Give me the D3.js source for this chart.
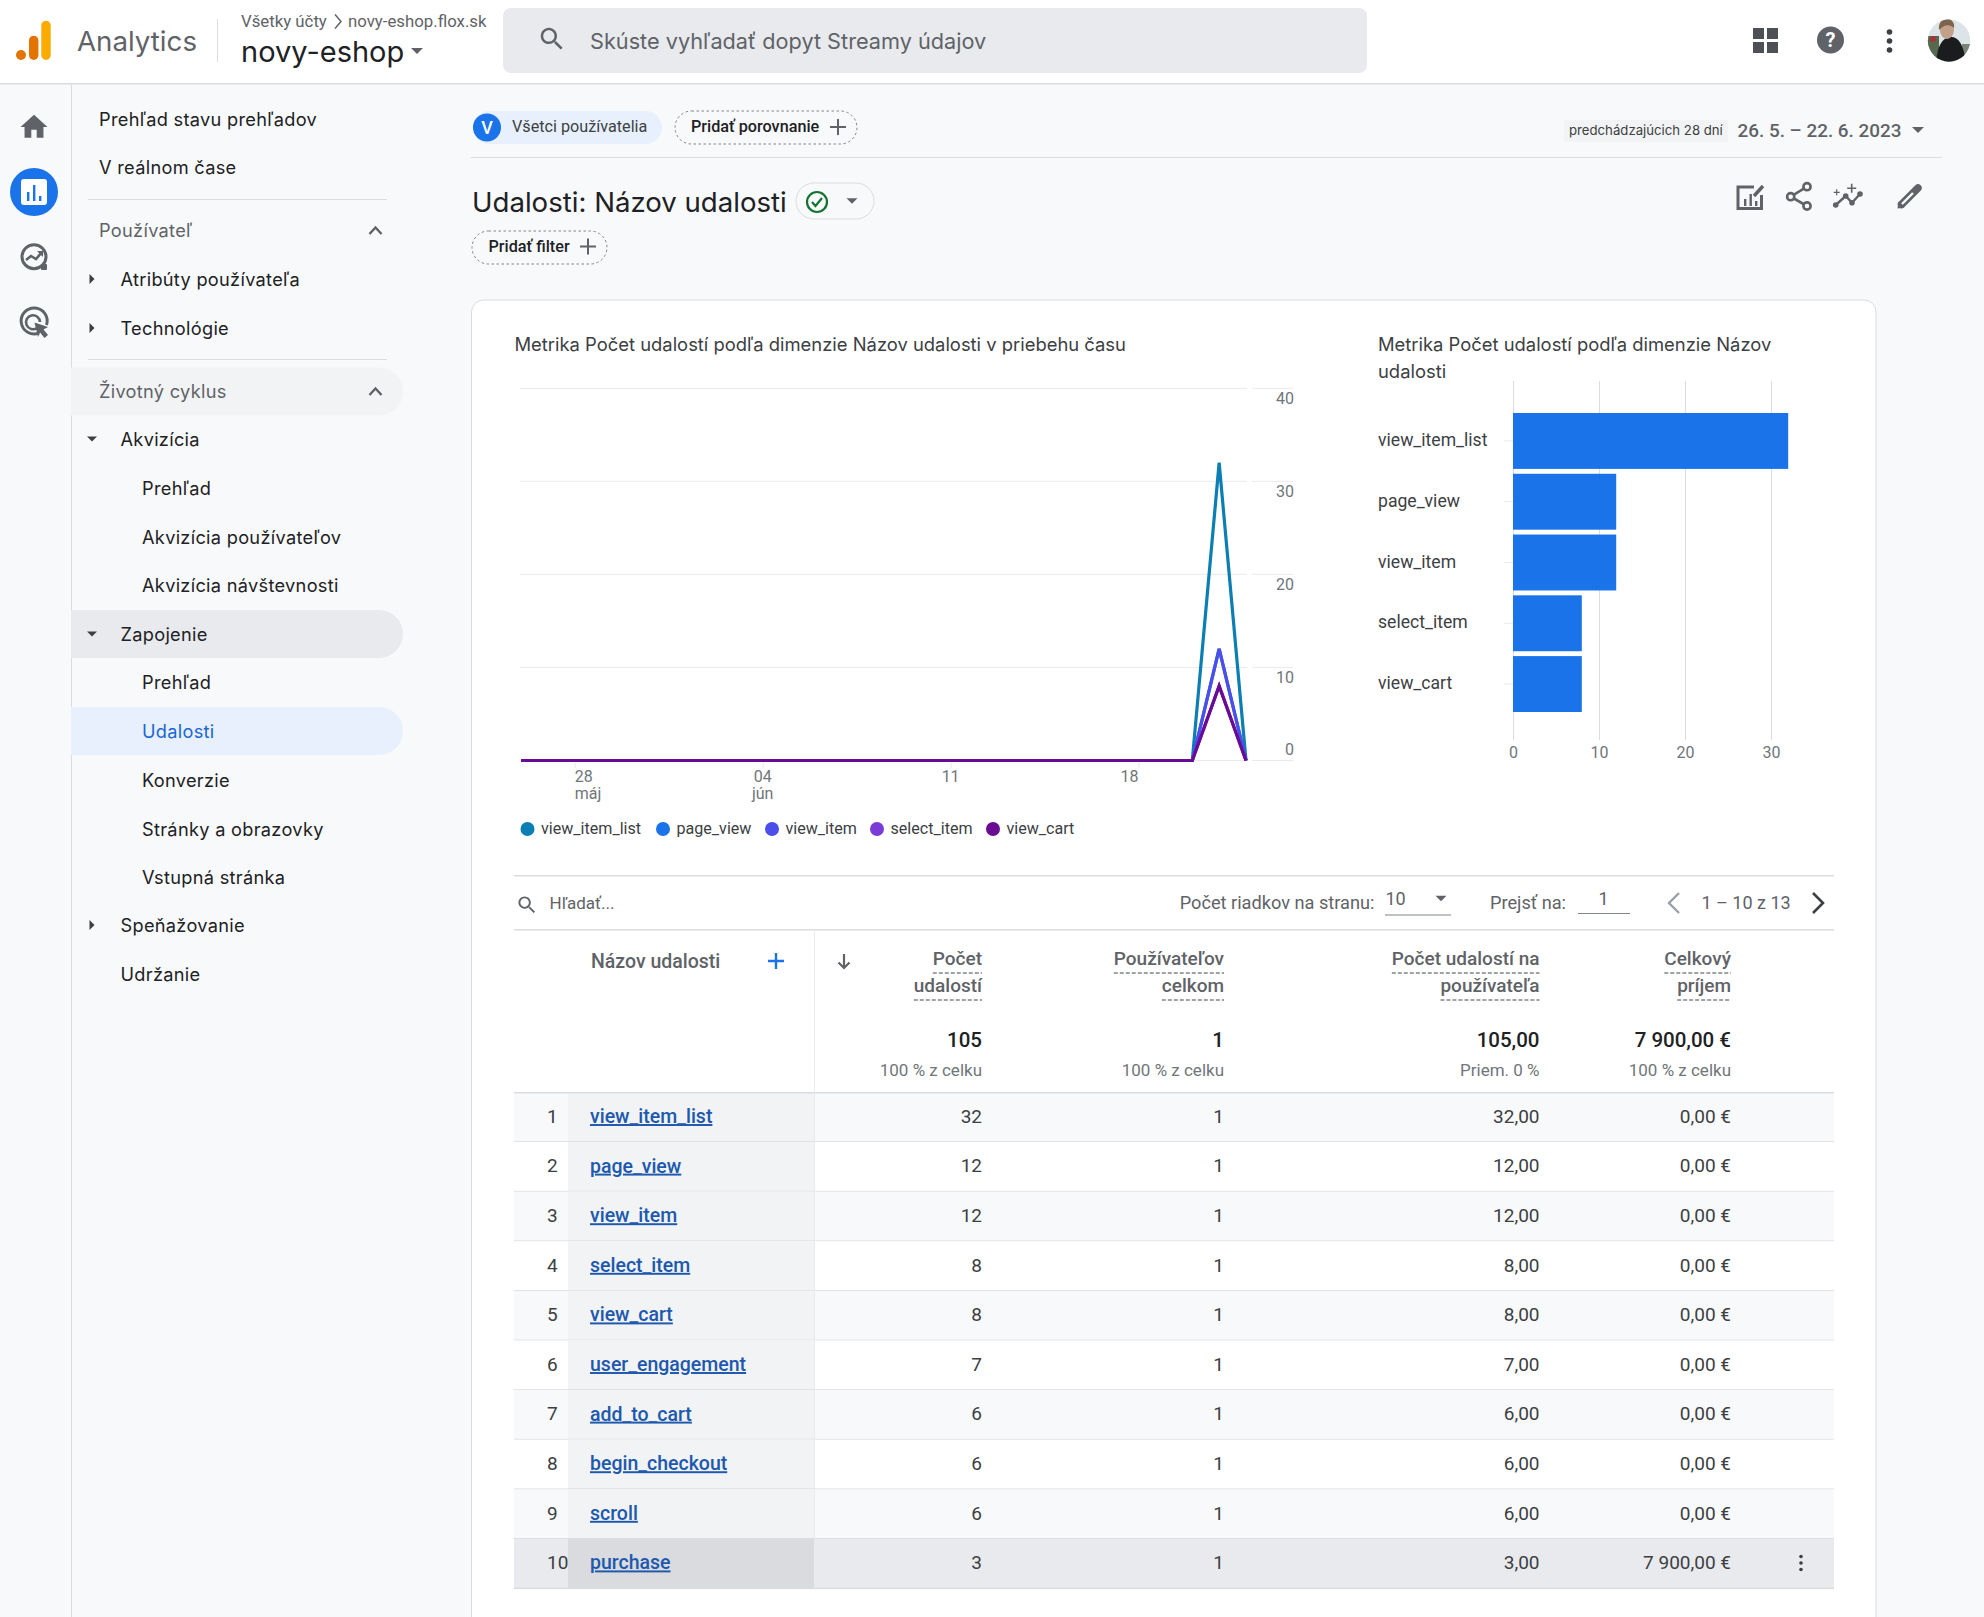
<!DOCTYPE html>
<html lang="sk">
<head>
<meta charset="utf-8">
<title>Udalosti: Názov udalosti</title>
<script src="https://cdn.jsdelivr.net/npm/d3@7"></script>
<style>
  html, body { margin: 0; padding: 0; background: #f8f9fa; }
  svg { display: block; }
</style>
</head>
<body>
<svg id="page" width="1984" height="1617" viewBox="0 0 1984 1617" role="img" aria-label="Udalosti: Názov udalosti"></svg>
<script>
// line chart data, one value per day from 26. 5. to 22. 6. 2023
const dates = [
  "2023-05-26", "2023-05-27", "2023-05-28", "2023-05-29", "2023-05-30", "2023-05-31", "2023-06-01",
  "2023-06-02", "2023-06-03", "2023-06-04", "2023-06-05", "2023-06-06", "2023-06-07", "2023-06-08",
  "2023-06-09", "2023-06-10", "2023-06-11", "2023-06-12", "2023-06-13", "2023-06-14", "2023-06-15",
  "2023-06-16", "2023-06-17", "2023-06-18", "2023-06-19", "2023-06-20", "2023-06-21", "2023-06-22",
];
const viewItemList = [0, 0, 0, 0, 0, 0, 0, 0, 0, 0, 0, 0, 0, 0, 0, 0, 0, 0, 0, 0, 0, 0, 0, 0, 0, 0, 32, 0];
const pageView = [0, 0, 0, 0, 0, 0, 0, 0, 0, 0, 0, 0, 0, 0, 0, 0, 0, 0, 0, 0, 0, 0, 0, 0, 0, 0, 12, 0];
const viewItem = [0, 0, 0, 0, 0, 0, 0, 0, 0, 0, 0, 0, 0, 0, 0, 0, 0, 0, 0, 0, 0, 0, 0, 0, 0, 0, 12, 0];
const selectItem = [0, 0, 0, 0, 0, 0, 0, 0, 0, 0, 0, 0, 0, 0, 0, 0, 0, 0, 0, 0, 0, 0, 0, 0, 0, 0, 8, 0];
const viewCart = [0, 0, 0, 0, 0, 0, 0, 0, 0, 0, 0, 0, 0, 0, 0, 0, 0, 0, 0, 0, 0, 0, 0, 0, 0, 0, 8, 0];

const lineNames = ["view_item_list", "page_view", "view_item", "select_item", "view_cart"];
const lineValues = [viewItemList, pageView, viewItem, selectItem, viewCart];
const lineColors = ["#0b7fb3", "#1a73e8", "#4b4ee8", "#7b3bd6", "#6a0b94"];
const lineYTicks = [0, 10, 20, 30, 40];
const lineXTicks = ["2023-05-28", "2023-06-04", "2023-06-11", "2023-06-18"];
const lineXLabels = [["28", "máj"], ["04", "jún"], ["11", ""], ["18", ""]];

// bar chart data
const barNames = ["view_item_list", "page_view", "view_item", "select_item", "view_cart"];
const barValues = [32, 12, 12, 8, 8];
const barTicks = [0, 10, 20, 30];

// table data
const tableNames = ["view_item_list", "page_view", "view_item", "select_item", "view_cart",
  "user_engagement", "add_to_cart", "begin_checkout", "scroll", "purchase"];
const tableEvents = ["32", "12", "12", "8", "8", "7", "6", "6", "6", "3"];
const tableUsers = ["1", "1", "1", "1", "1", "1", "1", "1", "1", "1"];
const tablePerUser = ["32,00", "12,00", "12,00", "8,00", "8,00", "7,00", "6,00", "6,00", "6,00", "3,00"];
const tableRevenue = ["0,00 €", "0,00 €", "0,00 €", "0,00 €", "0,00 €", "0,00 €", "0,00 €", "0,00 €", "0,00 €", "7 900,00 €"];
const tableHeaders = [["Počet", "udalostí"], ["Používateľov", "celkom"], ["Počet udalostí na", "používateľa"], ["Celkový", "príjem"]];
const tableTotals = ["105", "1", "105,00", "7 900,00 €"];
const tableShares = ["100 % z celku", "100 % z celku", "Priem. 0 %", "100 % z celku"];

// side navigation: label, level, arrow
const navLabels = ["Prehľad stavu prehľadov", "V reálnom čase", "Používateľ", "Atribúty používateľa", "Technológie",
  "Životný cyklus", "Akvizícia", "Prehľad", "Akvizícia používateľov", "Akvizícia návštevnosti",
  "Zapojenie", "Prehľad", "Udalosti", "Konverzie", "Stránky a obrazovky", "Vstupná stránka", "Speňažovanie", "Udržanie"];
const navLevels = [0, 0, 0, 1, 1, 0, 1, 2, 2, 2, 1, 2, 2, 2, 2, 2, 1, 1];
const navArrows = ["", "", "up", "right", "right", "up", "down", "", "", "", "down", "", "", "", "", "", "right", ""];

const UI = "Inter, 'Noto Sans', sans-serif";
const NUM = "Roboto, Arial, sans-serif";
const svg = d3.select("#page");

function label(parent, x, y, str, opts) {
  const o = Object.assign({ size: 16, fill: "#3c4043", anchor: "start", weight: 400, family: NUM, spacing: 0 }, opts);
  return parent.append("text")
    .attr("x", x)
    .attr("y", y)
    .attr("dy", "0.35em")
    .attr("text-anchor", o.anchor)
    .attr("font-family", o.family)
    .attr("font-size", o.size)
    .attr("font-weight", o.weight)
    .attr("letter-spacing", o.spacing)
    .attr("fill", o.fill)
    .text(str);
}

function icon(parent, d, x, y, scale, fill) {
  return parent.append("path")
    .attr("d", d)
    .attr("fill", fill)
    .attr("transform", "translate(" + (x - 12 * scale) + "," + (y - 12 * scale) + ") scale(" + scale + ")");
}

function caret(parent, x, y, r, dir, fill) {
  const pts = {
    down: [[x - r, y - r / 2], [x + r, y - r / 2], [x, y + r / 2]],
    right: [[x - r / 2, y - r], [x + r / 2, y], [x - r / 2, y + r]],
  }[dir];
  parent.append("path").attr("d", d3.line()(pts) + "Z").attr("fill", fill);
}

function plus(parent, x, y, r, color, width) {
  parent.append("path")
    .attr("d", "M" + (x - r) + " " + y + "H" + (x + r) + "M" + x + " " + (y - r) + "V" + (y + r))
    .attr("stroke", color).attr("stroke-width", width).attr("fill", "none");
}

function chevron(parent, x, y, points, color, width) {
  parent.append("path")
    .attr("d", d3.line()(points.map(function(p) { return [x + p[0], y + p[1]]; })))
    .attr("stroke", color).attr("stroke-width", width).attr("fill", "none");
}

const SEARCH_PATH = "M15.5 14h-.79l-.28-.27C15.41 12.59 16 11.11 16 9.5 16 5.91 13.09 3 9.5 3S3 5.91 3 9.5 5.91 16 9.5 16c1.61 0 3.09-.59 4.23-1.57l.27.28v.79l5 4.99L20.49 19l-4.99-5zm-6 0C7.01 14 5 11.99 5 9.5S7.01 5 9.5 5 14 7.01 14 9.5 11.99 14 9.5 14z";
const HOME_PATH = "M10 20v-6h4v6h5v-8h3L12 3 2 12h3v8z";

function drawHeader() {
  const g = svg.append("g");
  g.append("rect").attr("width", 1984).attr("height", 83).attr("fill", "#ffffff");
  g.append("rect").attr("y", 83).attr("width", 1984).attr("height", 1.5).attr("fill", "#dadce0");

  // logo
  g.append("circle").attr("cx", 21).attr("cy", 55).attr("r", 5).attr("fill", "#e37400");
  g.append("rect").attr("x", 29).attr("y", 35.7).attr("width", 9.4).attr("height", 24.3).attr("rx", 4.7).attr("fill", "#e37400");
  g.append("rect").attr("x", 41.3).attr("y", 20.7).attr("width", 9.4).attr("height", 39.3).attr("rx", 4.7).attr("fill", "#f9ab00");

  label(g, 77, 41, "Analytics", { size: 27.7, fill: "#5f6368", family: UI });
  g.append("rect").attr("x", 217).attr("y", 19).attr("width", 1).attr("height", 43).attr("fill", "#dadce0");
  label(g, 241, 21.5, "Všetky účty", { size: 16.8, fill: "#5f6368" });
  chevron(g, 338, 21.5, [[-3, -7], [3, 0], [-3, 7]], "#5f6368", 1.5);
  label(g, 348, 21.5, "novy-eshop.flox.sk", { size: 16.8, fill: "#5f6368" });
  label(g, 241, 52, "novy-eshop", { size: 29, fill: "#202124", family: UI });
  caret(g, 417, 51, 6, "down", "#5f6368");

  g.append("rect").attr("x", 503).attr("y", 8).attr("width", 864).attr("height", 65).attr("rx", 8).attr("fill", "#e8eaed");
  icon(g, SEARCH_PATH, 552, 39, 1.25, "#5f6368");
  label(g, 590, 41, "Skúste vyhľadať dopyt Streamy údajov", { size: 21.7, fill: "#5f6368", family: UI });

  // app icons
  [[1753, 28], [1767, 28], [1753, 42], [1767, 42]].forEach(function(p) {
    g.append("rect").attr("x", p[0]).attr("y", p[1]).attr("width", 11).attr("height", 11).attr("fill", "#4d5156");
  });
  g.append("circle").attr("cx", 1830.5).attr("cy", 40).attr("r", 13.5).attr("fill", "#5f6368");
  label(g, 1830.5, 40, "?", { size: 20, fill: "#ffffff", anchor: "middle", weight: 700 });
  [32, 41, 50].forEach(function(y) {
    g.append("circle").attr("cx", 1889.5).attr("cy", y).attr("r", 2.8).attr("fill", "#3c4043");
  });

  // avatar
  g.append("clipPath").attr("id", "avatar-clip").append("circle").attr("cx", 1949).attr("cy", 40.5).attr("r", 21.2);
  const a = g.append("g").attr("clip-path", "url(#avatar-clip)");
  a.append("rect").attr("x", 1925).attr("y", 16).attr("width", 48).attr("height", 48).attr("fill", "#dde4e8");
  a.append("rect").attr("x", 1925).attr("y", 36).attr("width", 14).attr("height", 28).attr("fill", "#56694f");
  a.append("rect").attr("x", 1962).attr("y", 44).attr("width", 12).attr("height", 20).attr("fill", "#7c8478");
  a.append("circle").attr("cx", 1933).attr("cy", 39).attr("r", 3).attr("fill", "#a5343a");
  a.append("path").attr("d", "M1936 64C1937 46 1942 38 1950 37C1958 36 1964 44 1966 64Z").attr("fill", "#1b1c1e");
  a.append("ellipse").attr("cx", 1947).attr("cy", 30).attr("rx", 7).attr("ry", 9).attr("fill", "#c2a08a");
  a.append("path").attr("d", "M1939 30C1938 22 1943 19 1947 19C1952 19 1955 23 1954 28C1950 24 1944 24 1939 30Z").attr("fill", "#7d624e");
}

function drawSideNav() {
  const g = svg.append("g");
  g.append("rect").attr("x", 71).attr("y", 84).attr("width", 1).attr("height", 1533).attr("fill", "#dadce0");

  // rail icons
  icon(g, HOME_PATH, 34, 127, 1.35, "#5f6368");
  g.append("circle").attr("cx", 34).attr("cy", 192).attr("r", 24).attr("fill", "#1a73e8");
  g.append("rect").attr("x", 21).attr("y", 179).attr("width", 26).attr("height", 26).attr("rx", 3).attr("fill", "#ffffff");
  [[28, 192, 9], [34, 185, 16], [40, 196, 5]].forEach(function(b) {
    g.append("rect").attr("x", b[0] - 1).attr("y", b[1]).attr("width", 2.4).attr("height", b[2]).attr("fill", "#1a73e8");
  });

  // explore icon
  g.append("circle").attr("cx", 34).attr("cy", 256.7).attr("r", 12).attr("fill", "none").attr("stroke", "#5f6368").attr("stroke-width", 3);
  g.append("rect").attr("x", 41).attr("y", 264).attr("width", 6).attr("height", 6).attr("rx", 1).attr("fill", "#5f6368");
  chevron(g, 34, 257, [[-8, 3], [-3, -1], [2, 2], [8, -5]], "#5f6368", 2.6);
  g.append("path").attr("d", "M37 251H43V257Z").attr("fill", "#5f6368");

  // advertising icon
  g.append("path").attr("d", "M39 333A13 13 0 1 1 46.5 325").attr("fill", "none").attr("stroke", "#5f6368").attr("stroke-width", 3);
  g.append("path").attr("d", "M37 328A7 7 0 1 1 40 322").attr("fill", "none").attr("stroke", "#5f6368").attr("stroke-width", 2.6);
  g.append("path").attr("d", "M34.5 322.5L48 327L43.5 329.5L48 335L44.5 338L40 332.5L38 337Z").attr("fill", "#5f6368");

  // highlighted rows
  g.append("path").attr("d", "M71 367.5H379A24 24 0 0 1 379 415.5H71Z").attr("fill", "#f1f3f4");
  g.append("path").attr("d", "M71 610H379A24 24 0 0 1 379 658H71Z").attr("fill", "#e8eaed");
  g.append("path").attr("d", "M71 707H379A24 24 0 0 1 379 755H71Z").attr("fill", "#e8f0fe");

  [199, 359].forEach(function(y) {
    g.append("rect").attr("x", 88).attr("y", y).attr("width", 299).attr("height", 1).attr("fill", "#dadce0");
  });

  const navY = [120, 168, 231, 280, 329, 392, 440, 489, 537.5, 586, 635, 683, 732, 780.5, 830, 878, 926, 975];
  const levelX = [99, 120.5, 142];
  navLabels.forEach(function(text, i) {
    const y = navY[i];
    const isGroup = navArrows[i] === "up";
    label(g, levelX[navLevels[i]], y, text, {
      size: 18.2,
      spacing: 0.3,
      family: UI,
      fill: text === "Udalosti" ? "#1967d2" : isGroup ? "#5f6368" : "#202124",
    });
    if (navArrows[i] === "up") chevron(g, 375.5, y - 1, [[-6, 4], [0, -2.5], [6, 4]], "#5f6368", 2.4);
    if (navArrows[i] === "right") caret(g, 92, y - 1, 5, "right", "#3c4043");
    if (navArrows[i] === "down") caret(g, 92, y - 1, 5, "down", "#3c4043");
  });
}

function drawTopBar() {
  const g = svg.append("g");
  g.append("rect").attr("x", 473).attr("y", 111).attr("width", 189).attr("height", 33).attr("rx", 16.5).attr("fill", "#e8f0fe");
  g.append("circle").attr("cx", 487).attr("cy", 127.5).attr("r", 14).attr("fill", "#1a73e8");
  label(g, 487, 127.5, "V", { size: 18, fill: "#ffffff", anchor: "middle", weight: 500 });
  label(g, 512, 126.5, "Všetci používatelia", { size: 16.2, fill: "#3c4043" });

  g.append("rect").attr("x", 675).attr("y", 111).attr("width", 182).attr("height", 33).attr("rx", 16.5)
    .attr("fill", "none").attr("stroke", "#80868b").attr("stroke-dasharray", "2.5 2.5");
  label(g, 691, 126.5, "Pridať porovnanie", { size: 16.2, fill: "#202124", weight: 500 });
  plus(g, 838, 127, 8, "#5f6368", 2);

  g.append("rect").attr("x", 471).attr("y", 157).attr("width", 1471).attr("height", 1).attr("fill", "#dadce0");

  g.append("rect").attr("x", 1564).attr("y", 120).attr("width", 164).attr("height", 22).attr("fill", "#f1f3f4");
  label(g, 1569, 130.5, "predchádzajúcich 28 dní", { size: 13.2, fill: "#3c4043", family: UI });
  label(g, 1737.5, 130, "26. 5. – 22. 6. 2023", { size: 18.9, fill: "#5f6368", weight: 500 });
  caret(g, 1918, 130, 6, "down", "#5f6368");

  label(g, 472, 202, "Udalosti: Názov udalosti", { size: 27.6, fill: "#202124", family: UI });
  g.append("rect").attr("x", 796).attr("y", 183).attr("width", 78).attr("height", 36).attr("rx", 18)
    .attr("fill", "none").attr("stroke", "#dadce0");
  g.append("circle").attr("cx", 817).attr("cy", 202).attr("r", 10).attr("fill", "none").attr("stroke", "#137333").attr("stroke-width", 2.2);
  chevron(g, 817, 202, [[-5, 0], [-1.5, 4], [5, -4]], "#137333", 2.2);
  caret(g, 852, 201, 5.5, "down", "#5f6368");

  g.append("rect").attr("x", 472).attr("y", 231).attr("width", 135).attr("height", 33).attr("rx", 16.5)
    .attr("fill", "none").attr("stroke", "#80868b").attr("stroke-dasharray", "2.5 2.5");
  label(g, 488.5, 246, "Pridať filter", { size: 16.2, fill: "#202124", weight: 500 });
  plus(g, 588, 246.5, 8, "#5f6368", 2);

  // report icons
  g.append("path").attr("d", "M1754 187H1738V208.5H1761.5V195").attr("fill", "none").attr("stroke", "#5f6368").attr("stroke-width", 3);
  [[1744, 199, 7], [1749.5, 194, 12], [1755, 201, 5]].forEach(function(b) {
    g.append("rect").attr("x", b[0]).attr("y", b[1]).attr("width", 2.4).attr("height", b[2]).attr("fill", "#5f6368");
  });
  g.append("path").attr("d", "M1754 196L1763 186").attr("stroke", "#5f6368").attr("stroke-width", 3.4);

  // share
  g.append("path").attr("d", "M1807 186.7L1790.7 196.7L1807 206").attr("fill", "none").attr("stroke", "#5f6368").attr("stroke-width", 2.6);
  [[1807, 186.7], [1790.7, 196.7], [1807, 206]].forEach(function(p) {
    g.append("circle").attr("cx", p[0]).attr("cy", p[1]).attr("r", 3.6)
      .attr("fill", "#f8f9fa").attr("stroke", "#5f6368").attr("stroke-width", 2.6);
  });

  // insights
  const insight = [[1835.7, 205], [1845.7, 196], [1852, 202.7], [1860, 194]];
  g.append("path").attr("d", d3.line()(insight)).attr("fill", "none").attr("stroke", "#5f6368").attr("stroke-width", 2.4);
  insight.forEach(function(p) {
    g.append("circle").attr("cx", p[0]).attr("cy", p[1]).attr("r", 2.8).attr("fill", "#5f6368");
  });
  plus(g, 1836.7, 192.3, 3, "#5f6368", 1.2);
  plus(g, 1851.7, 188.3, 4.5, "#5f6368", 1.6);

  // pencil
  g.append("path").attr("d", "M1901.5 204.5L1918 188").attr("stroke", "#5f6368").attr("stroke-width", 7.5).attr("stroke-linecap", "round");
  g.append("path").attr("d", "M1897.5 208.5L1898.5 201.5L1904.5 207.5Z").attr("fill", "#5f6368");
  g.append("path").attr("d", "M1902 204L1913 193").attr("stroke", "#f8f9fa").attr("stroke-width", 2.4);
}

function drawCard() {
  svg.append("path")
    .attr("d", "M471.5 1617V312A12 12 0 0 1 483.5 300H1864A12 12 0 0 1 1876 312V1617")
    .attr("fill", "#ffffff")
    .attr("stroke", "#dadce0");
}

function drawLineChart() {
  const g = svg.append("g");
  label(g, 514.5, 344.5, "Metrika Počet udalostí podľa dimenzie Názov udalosti v priebehu času", { size: 18.4, family: UI });

  const parse = d3.utcParse("%Y-%m-%d");
  const x = d3.scaleUtc().domain([parse(dates[0]), parse(dates[dates.length - 1])]).range([521, 1246]);
  const y = d3.scaleLinear().domain([0, 40]).range([760.5, 388.3]);

  // gridlines stop just short of the tick label stubs
  g.append("g").selectAll("line").data(lineYTicks).join("line")
    .attr("x1", 520).attr("x2", 1247)
    .attr("y1", function(d) { return y(d); }).attr("y2", function(d) { return y(d); })
    .attr("stroke", "#e8eaed");
  g.append("g").selectAll("line").data(lineYTicks).join("line")
    .attr("x1", 1252).attr("x2", 1293)
    .attr("y1", function(d) { return y(d); }).attr("y2", function(d) { return y(d); })
    .attr("stroke", "#e8eaed");

  const yAxis = d3.axisRight(y).tickValues(lineYTicks).tickSize(0).tickPadding(0);
  const yAxisG = g.append("g").attr("transform", "translate(1294,0)").call(yAxis);
  yAxisG.select(".domain").remove();
  yAxisG.selectAll("text")
    .attr("x", 0)
    .attr("text-anchor", "end")
    .attr("font-family", NUM)
    .attr("font-size", 16)
    .attr("fill", "#70757a")
    .attr("dy", function(d) { return d === 0 ? "-0.35em" : "0.95em"; });

  const xAxis = d3.axisBottom(x)
    .tickValues(lineXTicks.map(parse))
    .tickSize(8)
    .tickFormat(function() { return ""; });
  const xAxisG = g.append("g").attr("transform", "translate(0,760.5)").call(xAxis);
  xAxisG.select(".domain").remove();
  xAxisG.selectAll("line").attr("stroke", "#e8eaed");
  const anchors = ["start", "middle", "middle", "end"];
  lineXTicks.forEach(function(tick, i) {
    const tx = x(parse(tick));
    label(g, tx, 776.5, lineXLabels[i][0], { size: 16, fill: "#70757a", anchor: anchors[i] });
    if (lineXLabels[i][1]) label(g, tx, 793, lineXLabels[i][1], { size: 16, fill: "#70757a", anchor: anchors[i] });
  });

  const line = d3.line()
    .x(function(d, i) { return x(parse(dates[i])); })
    .y(function(d) { return y(d); });
  g.append("g").selectAll("path").data(lineValues).join("path")
    .attr("d", line)
    .attr("fill", "none")
    .attr("stroke", function(d, i) { return lineColors[i]; })
    .attr("stroke-width", 3.2)
    .attr("stroke-linejoin", "miter");

  // legend
  const legendX = [527.5, 663, 772, 877, 993];
  lineNames.forEach(function(name, i) {
    g.append("circle").attr("cx", legendX[i]).attr("cy", 829).attr("r", 7).attr("fill", lineColors[i]);
    label(g, legendX[i] + 13.5, 828.5, name, { size: 16.1, fill: "#3c4043" });
  });
}

function drawBarChart() {
  const g = svg.append("g");
  label(g, 1378, 344.5, "Metrika Počet udalostí podľa dimenzie Názov", { size: 18.4, family: UI });
  label(g, 1378, 372, "udalosti", { size: 18.4, family: UI });

  const x = d3.scaleLinear().domain([0, 30]).range([1513, 1771]);
  const y = d3.scaleBand().domain(barNames).range([413, 712]).paddingInner(0.08);

  const xAxis = d3.axisBottom(x).tickValues(barTicks).tickSize(359).tickPadding(7);
  const xAxisG = g.append("g").attr("transform", "translate(0,381)").call(xAxis);
  xAxisG.select(".domain").remove();
  xAxisG.selectAll("line").attr("stroke", "#dadce0");
  xAxisG.selectAll("text").attr("font-family", NUM).attr("font-size", 16).attr("fill", "#70757a");

  const yAxis = d3.axisLeft(y).tickSize(9).tickPadding(0).tickFormat("");
  const yAxisG = g.append("g").attr("transform", "translate(1513,0)").call(yAxis);
  yAxisG.select(".domain").remove();
  yAxisG.selectAll("line").attr("stroke", "#e8eaed");

  barNames.forEach(function(name) {
    label(g, 1378, y(name) + y.bandwidth() / 2 - 1, name, { size: 17.6, fill: "#3c4043" });
  });

  g.append("g").selectAll("rect").data(barValues).join("rect")
    .attr("x", x(0))
    .attr("y", function(d, i) { return y(barNames[i]); })
    .attr("width", function(d) { return x(d) - x(0); })
    .attr("height", y.bandwidth())
    .attr("fill", "#1a73e8");
}

function drawTable() {
  const g = svg.append("g");
  const colX = [982, 1224, 1539.5, 1731];

  g.append("rect").attr("x", 514).attr("y", 875).attr("width", 1320).attr("height", 1.5).attr("fill", "#dadce0");
  g.append("rect").attr("x", 514).attr("y", 929).attr("width", 1320).attr("height", 1.5).attr("fill", "#dadce0");

  // search and paging row
  icon(g, SEARCH_PATH, 527, 905, 0.95, "#5f6368");
  label(g, 549.5, 903.5, "Hľadať...", { size: 17, fill: "#5f6368" });
  label(g, 1374.5, 903, "Počet riadkov na stranu:", { size: 18.2, fill: "#5f6368", anchor: "end" });
  label(g, 1385.5, 899, "10", { size: 18, fill: "#5f6368" });
  caret(g, 1441, 898.5, 5.5, "down", "#5f6368");
  g.append("rect").attr("x", 1385).attr("y", 914.5).attr("width", 66).attr("height", 1).attr("fill", "#80868b");
  label(g, 1490, 903, "Prejsť na:", { size: 18.2, fill: "#5f6368" });
  label(g, 1603.5, 899, "1", { size: 18, fill: "#5f6368", anchor: "middle" });
  g.append("rect").attr("x", 1578).attr("y", 913).attr("width", 52).attr("height", 1).attr("fill", "#80868b");
  chevron(g, 1674, 903, [[5, -10], [-5, 0], [5, 10]], "#9aa0a6", 2.4);
  label(g, 1701.5, 903, "1 – 10 z 13", { size: 18, fill: "#5f6368" });
  chevron(g, 1818, 903, [[-5, -10], [5, 0], [-5, 10]], "#3c4043", 2.6);

  // table head
  label(g, 591, 961, "Názov udalosti", { size: 19.5, fill: "#5f6368", weight: 500 });
  plus(g, 776, 961, 8, "#1a73e8", 2.4);
  g.append("path").attr("d", "M844 954V968M838.5 962.5L844 968L849.5 962.5").attr("fill", "none").attr("stroke", "#5f6368").attr("stroke-width", 2.2);

  tableHeaders.forEach(function(lines, c) {
    lines.forEach(function(line, j) {
      const y = 958.5 + j * 27;
      const t = label(g, colX[c], y, line, { size: 19, fill: "#5f6368", anchor: "end", weight: 500 });
      const w = t.node().getComputedTextLength();
      g.append("line").attr("x1", colX[c] - w).attr("x2", colX[c]).attr("y1", y + 14.5).attr("y2", y + 14.5)
        .attr("stroke", "#80868b").attr("stroke-width", 1.5).attr("stroke-dasharray", "4 2");
    });
    label(g, colX[c], 1039.5, tableTotals[c], { size: 20.5, fill: "#202124", anchor: "end", weight: 500 });
    label(g, colX[c], 1070, tableShares[c], { size: 17, fill: "#70757a", anchor: "end" });
  });

  // rows
  const y = d3.scaleBand().domain(tableNames).range([1092.4, 1588.4]);
  const rows = g.append("g").selectAll("g").data(tableNames).join("g")
    .attr("transform", function(d) { return "translate(0," + y(d) + ")"; });
  const h = y.bandwidth();

  rows.append("rect").attr("x", 514).attr("width", 1320).attr("height", h)
    .attr("fill", function(d, i) { return i === 9 ? "#e8eaed" : i % 2 === 0 ? "#f8f9fa" : "#ffffff"; });
  rows.append("rect").attr("x", 568).attr("width", 246).attr("height", h)
    .attr("fill", function(d, i) { return i === 9 ? "#d9dbde" : "#f1f3f4"; });
  rows.append("rect").attr("x", 514).attr("y", h - 0.75).attr("width", 1320).attr("height", 1.5).attr("fill", "#dadce0");
  rows.append("text").attr("x", 547).attr("y", h / 2 - 1).attr("dy", "0.35em")
    .attr("font-family", NUM).attr("font-size", 19).attr("fill", "#3c4043")
    .text(function(d, i) { return i + 1; });
  rows.append("text").attr("x", 590).attr("y", h / 2 - 1).attr("dy", "0.35em")
    .attr("font-family", NUM).attr("font-size", 19.5).attr("font-weight", 500).attr("fill", "#2058ad")
    .attr("text-decoration", "underline")
    .text(function(d) { return d; });

  [tableEvents, tableUsers, tablePerUser, tableRevenue].forEach(function(col, c) {
    rows.append("text").attr("x", colX[c]).attr("y", h / 2 - 1).attr("dy", "0.35em")
      .attr("text-anchor", "end").attr("font-family", NUM).attr("font-size", 19).attr("fill", "#3c4043")
      .text(function(d, i) { return col[i]; });
  });

  g.append("rect").attr("x", 514).attr("y", 1092).attr("width", 1320).attr("height", 1.5).attr("fill", "#dadce0");
  g.append("rect").attr("x", 814).attr("y", 930).attr("width", 1).attr("height", 658).attr("fill", "#e8eaed");

  // row menu on the hovered row
  [1556.5, 1563, 1569.5].forEach(function(dotY) {
    g.append("circle").attr("cx", 1801).attr("cy", dotY).attr("r", 1.8).attr("fill", "#3c4043");
  });
}

drawHeader();
drawSideNav();
drawTopBar();
drawCard();
drawLineChart();
drawBarChart();
drawTable();
</script>
</body>
</html>
